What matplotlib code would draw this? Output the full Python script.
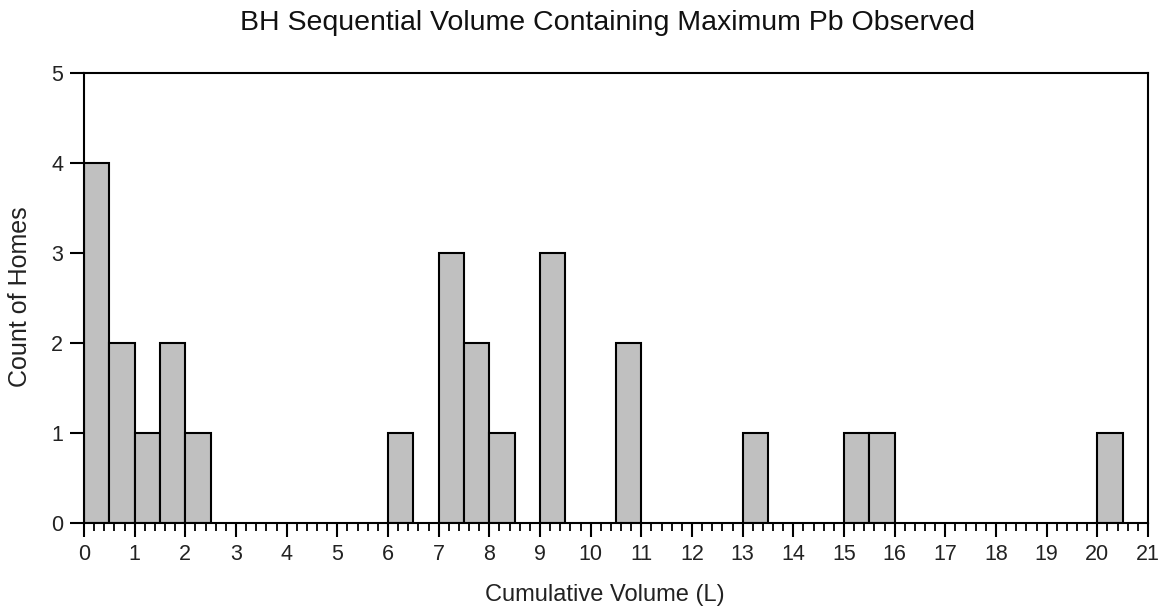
import matplotlib
matplotlib.use("Agg")
import matplotlib.pyplot as plt
from matplotlib.ticker import MultipleLocator

plt.rcParams['font.family'] = ['Liberation Sans', 'DejaVu Sans']

bin_left = [0.0, 0.5, 1.0, 1.5, 2.0, 6.0, 7.0, 7.5, 8.0, 9.0, 10.5, 13.0, 15.0, 15.5, 20.0]
counts = [4, 2, 1, 2, 1, 1, 3, 2, 1, 3, 2, 1, 1, 1, 1]
bin_width = 0.5

title = "BH Sequential Volume Containing Maximum Pb Observed"
xlabel = "Cumulative Volume (L)"
ylabel = "Count of Homes"

fig = plt.figure(figsize=(11.6, 6.12), dpi=100)
ax = fig.add_axes([84/1160, 1-523/612, (1148-84)/1160, (523-73)/612])

ax.bar(bin_left, counts, width=bin_width, align='edge', color='#c0c0c0',
       edgecolor='black', linewidth=1.5, zorder=2)

ax.set_xlim(0, 21)
ax.set_ylim(0, 5)
ax.xaxis.set_major_locator(MultipleLocator(1))
ax.xaxis.set_minor_locator(MultipleLocator(0.2))
ax.yaxis.set_major_locator(MultipleLocator(1))

for s in ax.spines.values():
    s.set_linewidth(1.5)
    s.set_color('black')

ax.tick_params(axis='x', which='major', direction='out', length=10, width=1.5, labelsize=15.5, pad=5, colors='black')
ax.tick_params(axis='x', which='minor', direction='out', length=6, width=1.3)
ax.tick_params(axis='y', which='major', direction='out', length=10, width=1.5, labelsize=15.5, pad=5)
for lbl in ax.get_xticklabels() + ax.get_yticklabels():
    lbl.set_color('#222222')

fig.text(605/1160, 1 - 595/612, xlabel, ha='center', va='center', fontsize=17, color='#222222')
fig.text(20/1160, 1 - 297/612, ylabel, ha='center', va='center', rotation=90, fontsize=18, color='#222222')
fig.text(608/1160, 1 - 23/612, title, ha='center', va='center', fontsize=20.5, color='#111111')

fig.savefig("out.png", dpi=100)
